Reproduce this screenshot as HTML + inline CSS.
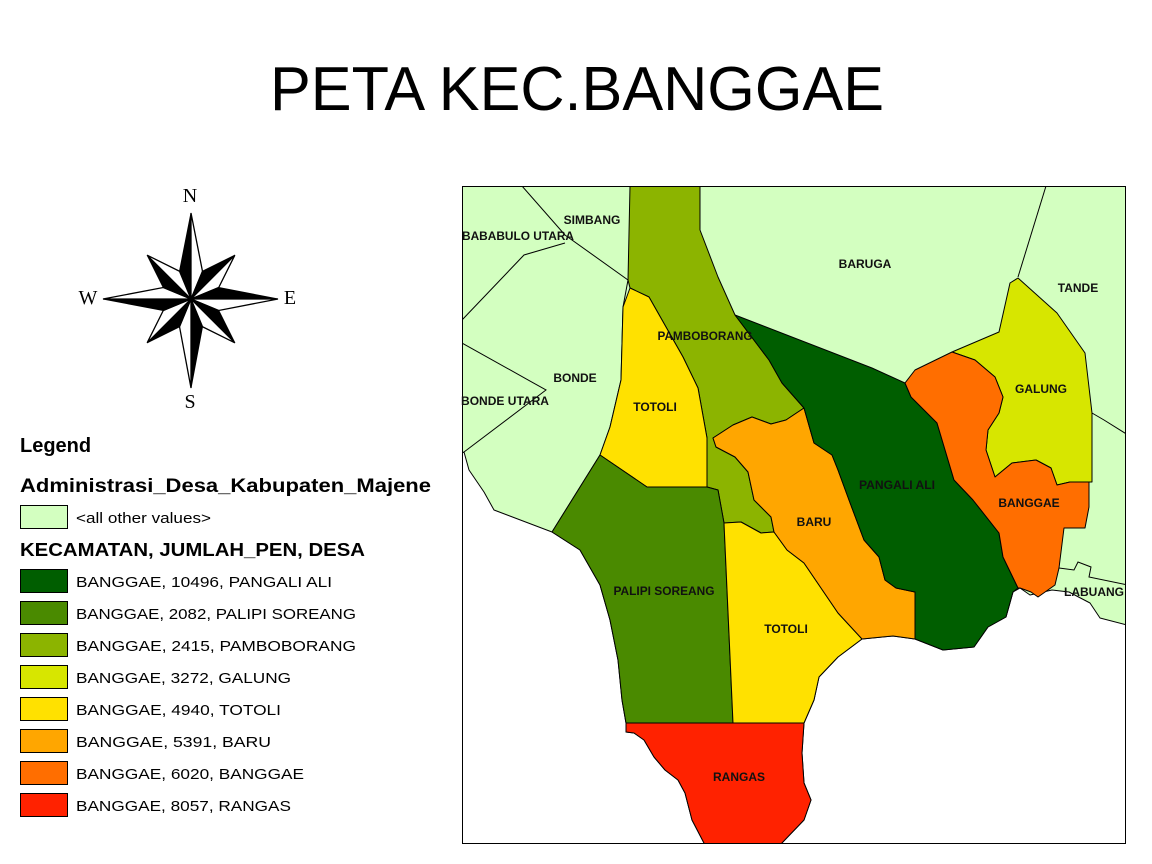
<!DOCTYPE html>
<html><head><meta charset="utf-8"><style>
html,body{margin:0;padding:0;background:#fff;}
svg{display:block;}
.lbl{font-family:"Liberation Sans",sans-serif;font-weight:bold;font-size:12px;fill:#111;text-anchor:middle;}
.b{stroke:#000;stroke-width:1;stroke-linejoin:round;}
</style></head><body>
<svg id="root" width="1152" height="864" viewBox="0 0 1152 864" xmlns="http://www.w3.org/2000/svg">
<text x="577" y="110" font-family="Liberation Sans, sans-serif" font-size="62" text-anchor="middle" textLength="614" lengthAdjust="spacingAndGlyphs">PETA KEC.BANGGAE</text>

<g id="compass"></g>
<text x="190" y="202" font-family="Liberation Serif, serif" font-size="20" text-anchor="middle">N</text>
<text x="190" y="408" font-family="Liberation Serif, serif" font-size="20" text-anchor="middle">S</text>
<text x="88" y="304" font-family="Liberation Serif, serif" font-size="20" text-anchor="middle">W</text>
<text x="290" y="304" font-family="Liberation Serif, serif" font-size="20" text-anchor="middle">E</text>

<g>
<clipPath id="fr"><rect x="462" y="186" width="664" height="658"/></clipPath>
<g clip-path="url(#fr)">
<rect x="462" y="186" width="664" height="658" fill="#d3ffc0"/>
<polygon fill="#fff" class="b" points="462,453 464,452 469,470 484,492 494,510 552,532 580,550 600,585 610,620 618,660 622,700 626,723 626,732 634,733 644,740 654,757 665,770 678,780 685,793 692,820 705,845 462,845"/>
<polygon fill="#fff" class="b" points="780,845 804,820 811,800 804,783 802,753 804,723 814,700 819,677 838,657 862,639 893,636 915,639 943,650 974,647 988,627 1006,617 1013,592 1020,588 1030,595 1052,590 1069,592 1090,603 1100,618 1127,625 1127,845"/>
<g fill="none" stroke="#000" stroke-width="1">
<polyline points="522,186 565,235 628,280"/>
<polyline points="565,243 524,255 462,320"/>
<polyline points="462,343 546,390 464,452"/>
<polyline points="1046,186 1018,277"/>
<polyline points="1092,413 1104,420 1128,435"/>
<polyline points="1059,568 1074,570 1078,562 1091,567 1089,577 1128,585"/>
<polyline points="628,280 623,307 621,380 610,427 600,455 552,532"/>
</g>
<polygon class="b" fill="#8cb400" points="630,186 700,186 700,230 718,277 735,315 769,360 782,383 804,408 786,420 771,424 752,417 733,425 713,438 716,447 735,457 748,472 754,500 771,517 774,532 761,533 741,522 724,523 718,490 707,487 707,438 698,388 683,357 649,297 630,288 628,280"/>
<polygon class="b" fill="#ffe100" points="630,288 649,297 683,357 698,388 707,438 707,487 647,487 600,455 610,427 621,380 623,307"/>
<polygon class="b" fill="#4a8a00" points="600,455 647,487 707,487 718,490 724,523 733,723 626,723 622,700 618,660 610,620 600,585 580,550 552,532"/>
<polygon class="b" fill="#ffe100" points="724,523 741,522 761,533 774,532 787,550 804,563 838,613 862,639 838,657 819,677 814,700 804,723 733,723"/>
<polygon class="b" fill="#ffa600" points="713,438 733,425 752,417 771,424 786,420 804,408 814,443 832,455 838,470 849,500 864,540 879,557 885,580 896,588 915,592 915,639 893,636 862,639 838,613 804,563 787,550 774,532 771,517 754,500 748,472 735,457 716,447"/>
<polygon class="b" fill="#005e00" points="735,315 872,368 905,383 911,397 937,423 954,480 973,500 999,533 1003,557 1018,588 1013,592 1006,617 988,627 974,647 943,650 915,639 915,592 896,588 885,580 879,557 864,540 849,500 838,470 832,455 814,443 804,408 782,383 769,360"/>
<polygon class="b" fill="#d7e600" points="952,352 999,332 1010,283 1018,278 1057,313 1085,353 1092,413 1092,482 1070,482 1057,485 1051,468 1036,460 1012,463 995,477 986,450 988,430 999,413 1003,397 995,377 975,360"/>
<polygon class="b" fill="#ff6e00" points="905,383 915,370 952,352 975,360 995,377 1003,397 999,413 988,430 986,450 995,477 1012,463 1036,460 1051,468 1057,485 1070,482 1089,482 1089,507 1085,528 1064,528 1059,568 1055,585 1038,597 1031,592 1020,588 1018,588 1003,557 999,533 973,500 954,480 937,423 911,397"/>
<polygon class="b" fill="#ff2200" points="626,723 804,723 802,753 804,783 811,800 804,820 780,845 705,845 692,820 685,793 678,780 665,770 654,757 644,740 634,733 626,732"/>
</g>
<rect x="462.5" y="186.5" width="663" height="657" fill="none" stroke="#000" stroke-width="1"/>
<g>
<text class="lbl" x="592" y="224">SIMBANG</text>
<text class="lbl" x="518" y="240" textLength="112" lengthAdjust="spacingAndGlyphs">BABABULO UTARA</text>
<text class="lbl" x="865" y="268">BARUGA</text>
<text class="lbl" x="1078" y="292">TANDE</text>
<text class="lbl" x="705" y="340" textLength="95" lengthAdjust="spacingAndGlyphs">PAMBOBORANG</text>
<text class="lbl" x="575" y="382">BONDE</text>
<text class="lbl" x="505" y="405" textLength="88" lengthAdjust="spacingAndGlyphs">BONDE UTARA</text>
<text class="lbl" x="655" y="411">TOTOLI</text>
<text class="lbl" x="1041" y="393">GALUNG</text>
<text class="lbl" x="897" y="489" textLength="76" lengthAdjust="spacingAndGlyphs">PANGALI ALI</text>
<text class="lbl" x="1029" y="507">BANGGAE</text>
<text class="lbl" x="814" y="526">BARU</text>
<text class="lbl" x="664" y="595" textLength="101" lengthAdjust="spacingAndGlyphs">PALIPI SOREANG</text>
<text class="lbl" x="1094" y="596">LABUANG</text>
<text class="lbl" x="786" y="633">TOTOLI</text>
<text class="lbl" x="739" y="781">RANGAS</text>
</g>
</g>

<g id="legend" font-family="Liberation Sans, sans-serif">
<text x="20" y="452" font-size="20" font-weight="bold">Legend</text>
<text x="20" y="492" font-size="19" font-weight="bold" textLength="411" lengthAdjust="spacingAndGlyphs">Administrasi_Desa_Kabupaten_Majene</text>
<rect x="20.5" y="505.5" width="47" height="23" fill="#d3ffc0" stroke="#000"/>
<text x="76" y="523" font-size="15" textLength="135" lengthAdjust="spacingAndGlyphs">&lt;all other values&gt;</text>
<text x="20" y="556" font-size="18" font-weight="bold" textLength="345" lengthAdjust="spacingAndGlyphs">KECAMATAN, JUMLAH_PEN, DESA</text>
</g>

<script>
const kecamatan = ["BANGGAE","BANGGAE","BANGGAE","BANGGAE","BANGGAE","BANGGAE","BANGGAE","BANGGAE"];
const jumlahPen = [10496, 2082, 2415, 3272, 4940, 5391, 6020, 8057];
const desa = ["PANGALI ALI","PALIPI SOREANG","PAMBOBORANG","GALUNG","TOTOLI","BARU","BANGGAE","RANGAS"];
const classColors = ["#005e00","#4a8a00","#8cb400","#d7e600","#ffe100","#ffa600","#ff6e00","#ff2200"];
const labelWidths = [256, 280, 280, 215, 205, 195, 228, 215];
const NS = "http://www.w3.org/2000/svg";
const lg = document.getElementById('legend');
for (let i = 0; i < desa.length; i++) {
  const y = 569 + i * 32;
  const r = document.createElementNS(NS, 'rect');
  r.setAttribute('x', 20.5); r.setAttribute('y', y + 0.5);
  r.setAttribute('width', 47); r.setAttribute('height', 23);
  r.setAttribute('fill', classColors[i]); r.setAttribute('stroke', '#000');
  
  
  lg.appendChild(r);
  const t = document.createElementNS(NS, 'text');
  t.setAttribute('x', 76); t.setAttribute('y', y + 18);
  t.setAttribute('font-size', 15);
  t.setAttribute('textLength', labelWidths[i]);
  t.setAttribute('lengthAdjust', 'spacingAndGlyphs');
  t.textContent = kecamatan[i] + ", " + jumlahPen[i] + ", " + desa[i];
  
  
  lg.appendChild(t);
}
// compass rose
const cg = document.getElementById('compass');
const cx = 191, cy = 299;
const arms = [[0,86],[45,62],[90,87],[135,62],[180,89],[225,62],[270,88],[315,62]];
const inner = 30;
function pt(a, r){ const rad = (a - 90) * Math.PI / 180; return [cx + r*Math.cos(rad), cy + r*Math.sin(rad)]; }
arms.forEach(([a, r]) => {
  const tip = pt(a, r), L = pt(a - 22.5, inner), R = pt(a + 22.5, inner);
  const p1 = document.createElementNS(NS, 'polygon');
  p1.setAttribute('points', [[cx,cy],L,tip].map(p=>p.join(',')).join(' '));
  p1.setAttribute('fill', '#000'); p1.setAttribute('stroke', '#000');
  
  
  cg.appendChild(p1);
  const p2 = document.createElementNS(NS, 'polygon');
  p2.setAttribute('points', [[cx,cy],R,tip].map(p=>p.join(',')).join(' '));
  p2.setAttribute('fill', '#fff'); p2.setAttribute('stroke', '#000'); p2.setAttribute('stroke-width', 1.3);
  
  
  cg.appendChild(p2);
});
</script>
</svg>
</body></html>
